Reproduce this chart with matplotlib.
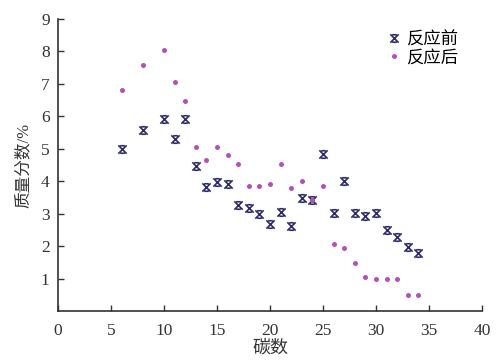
import numpy as np
import matplotlib
matplotlib.use('Agg')
import matplotlib.pyplot as plt
from matplotlib.path import Path

# 数据
carbon = [6, 8, 10, 11, 12, 13, 14, 15, 16, 17, 18, 19, 20, 21, 22, 23, 24,
          25, 26, 27, 28, 29, 30, 31, 32, 33, 34]
before = [5.0, 5.58, 5.92, 5.3, 5.92, 4.48, 3.84, 3.99, 3.92, 3.29, 3.18, 3.0,
          2.69, 3.07, 2.64, 3.5, 3.43, 4.84, 3.04, 4.0, 3.02, 2.93, 3.02, 2.51,
          2.29, 1.98, 1.8]
after = [6.82, 7.58, 8.05, 7.05, 6.49, 5.07, 4.65, 5.07, 4.82, 4.54, 3.87, 3.87,
         3.91, 4.54, 3.81, 4.02, 3.43, 3.87, 2.07, 1.95, 1.5, 1.07, 1.0, 1.0,
         1.0, 0.51, 0.51]
xticks = list(range(0, 41, 5))
yticks = list(range(1, 10))

fonts = ['Liberation Serif', 'Noto Sans CJK SC']
plt.rcParams['font.family'] = fonts

# Excel 风格的 X 标记
verts = [(-1, -1), (1, 1), (-1, 1), (1, -1),
         (-0.55, 0.9), (0.55, 0.9), (-0.55, -0.9), (0.55, -0.9)]
codes = [Path.MOVETO, Path.LINETO, Path.MOVETO, Path.LINETO,
         Path.MOVETO, Path.LINETO, Path.MOVETO, Path.LINETO]
xmark = Path(verts, codes)

fig = plt.figure(figsize=(4.97, 3.63), dpi=100)
ax = fig.add_axes([0.1167, 0.1419, 0.8531, 0.8058])

ax.plot(carbon, before, linestyle='none', marker=xmark, markersize=6,
        markeredgewidth=1.2, color='#2e2b6a', markerfacecolor='none',
        label='反应前')
ax.plot(carbon, after, linestyle='none', marker='o', markersize=3.6,
        color='#b550b8', markeredgewidth=0, label='反应后')

ax.set_xlim(0, 40)
ax.set_ylim(0, 9)
ax.set_xticks(xticks)
ax.set_yticks(yticks)
ax.tick_params(direction='in', length=4, width=1, labelsize=12.5, colors='#333333')
ax.tick_params(axis='x', pad=8)
ax.tick_params(axis='y', pad=6)
for lab in ax.get_xticklabels() + ax.get_yticklabels():
    lab.set_fontfamily(fonts)
for s in ['top', 'right']:
    ax.spines[s].set_visible(False)
for s in ['left', 'bottom']:
    ax.spines[s].set_linewidth(1.2)
    ax.spines[s].set_color('#333333')

ax.set_xlabel('碳数', fontsize=13, labelpad=1, color='#333333')
ax.set_ylabel('质量分数/%', fontsize=12, labelpad=7, color='#333333')

leg = ax.legend(loc='upper right', bbox_to_anchor=(0.965, 0.985), frameon=False,
                fontsize=12.5, handlelength=0.6, handletextpad=0.4,
                labelspacing=0.1, borderpad=0)

fig.savefig('out.png', dpi=100)
